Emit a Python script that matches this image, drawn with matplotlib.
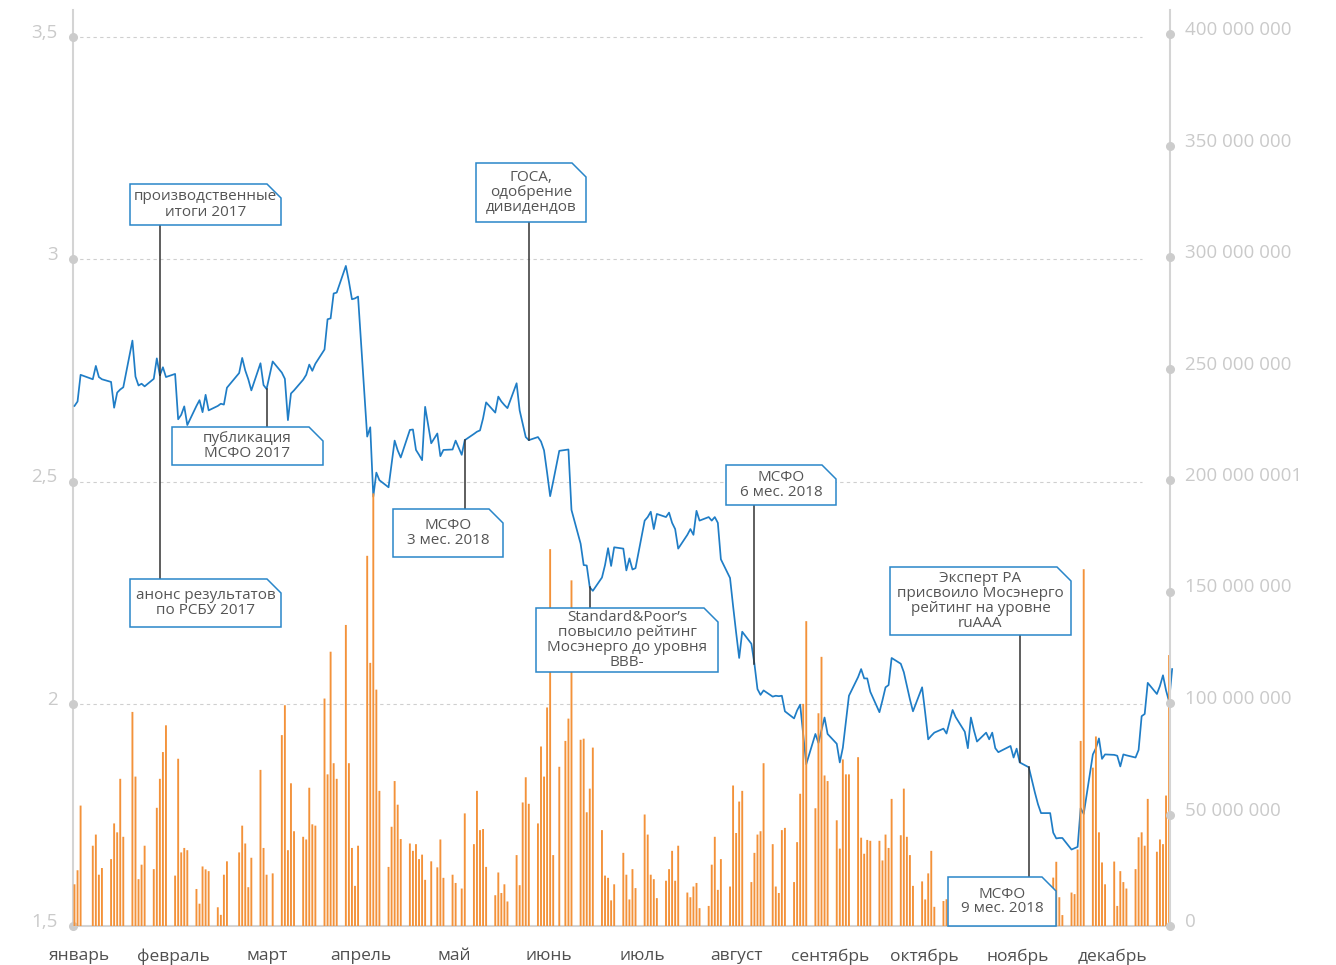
import numpy as np
import pandas as pd
import matplotlib
matplotlib.use('Agg')
import matplotlib.pyplot as plt
import matplotlib.dates as mdates
from matplotlib.patches import Polygon
from matplotlib.transforms import Affine2D, ScaledTranslation

plt.rcParams['font.family'] = ['Open Sans', 'DejaVu Sans']

W, H = 1336, 965

# trading calendar 2018 (MOEX)
holidays = ['2018-01-08', '2018-02-23', '2018-03-08', '2018-05-01',
            '2018-05-09', '2018-06-12', '2018-11-05']
work_saturdays = ['2018-04-28', '2018-06-09', '2018-12-29']

# closing price, rub
price_jan = [2.67, 2.68, 2.74, 2.73, 2.76, 2.735, 2.73, 2.724, 2.666, 2.70, 2.707, 2.712,
             2.817, 2.736, 2.716, 2.72, 2.714, 2.731, 2.777, 2.739]
price_feb = [2.757, 2.735, 2.742, 2.64, 2.65, 2.669, 2.627, 2.67, 2.683, 2.656, 2.695, 2.66,
             2.67, 2.675, 2.673, 2.711, 2.744, 2.778, 2.75]
price_mar = [2.73, 2.705, 2.766, 2.717, 2.708, 2.77, 2.745, 2.731, 2.638, 2.698, 2.705, 2.729,
             2.74, 2.763, 2.749, 2.765, 2.797, 2.865, 2.867, 2.923, 2.925]
price_apr = [2.985, 2.95, 2.91, 2.912, 2.916, 2.601, 2.622, 2.466, 2.52, 2.503, 2.487, 2.54,
             2.592, 2.57, 2.554, 2.616, 2.617, 2.571, 2.56, 2.548, 2.668, 2.586]
price_may = [2.608, 2.557, 2.571, 2.572, 2.592, 2.56, 2.593, 2.607, 2.612, 2.615, 2.642, 2.678,
             2.655, 2.691, 2.68, 2.672, 2.665, 2.721, 2.66, 2.63, 2.60]
price_jun = [2.593, 2.60, 2.59, 2.57, 2.52, 2.467, 2.50, 2.569, 2.571, 2.572, 2.436, 2.36,
             2.312, 2.311, 2.262, 2.254, 2.284, 2.312, 2.35, 2.31, 2.352]
price_jul = [2.349, 2.30, 2.327, 2.302, 2.305, 2.412, 2.42, 2.432, 2.393, 2.427, 2.42, 2.43,
             2.407, 2.393, 2.349, 2.38, 2.393, 2.38, 2.434, 2.412, 2.42, 2.412]
price_aug = [2.42, 2.407, 2.325, 2.283, 2.22, 2.16, 2.103, 2.162, 2.135, 2.09, 2.033, 2.02,
             2.03, 2.016, 2.018, 2.017, 2.018, 1.983, 1.967, 1.985, 1.998, 1.93, 1.864]
price_sep = [1.932, 1.912, 1.94, 1.969, 1.932, 1.91, 1.868, 1.901, 1.96, 2.018, 2.06, 2.078,
             2.057, 2.057, 2.027, 1.981, 2.008, 2.037, 2.042, 2.103]
price_oct = [2.09, 2.071, 2.04, 2.01, 1.983, 2.037, 1.98, 1.92, 1.928, 1.935, 1.944, 1.933,
             1.96, 1.986, 1.97, 1.937, 1.90, 1.969, 1.94, 1.915, 1.935, 1.92, 1.935]
price_nov = [1.90, 1.891, 1.905, 1.879, 1.899, 1.868, 1.857, 1.828, 1.80, 1.774, 1.754, 1.754,
             1.71, 1.697, 1.698, 1.698, 1.672, 1.675, 1.678, 1.765, 1.752]
price_dec = [1.886, 1.90, 1.922, 1.876, 1.886, 1.885, 1.883, 1.859, 1.886, 1.884, 1.879, 1.896,
             1.972, 1.977, 2.047, 2.022, 2.04, 2.064, 2.03, 2.005, 2.078]

# trading volume, mln shares
vol_jan = [18.7, 25, 54, 36, 41, 23, 26, 30, 46, 42, 66, 40, 96, 67, 21, 27.5, 36, 25.5, 53, 66]
vol_feb = [78, 90, 22.6, 75, 33, 35, 34, 16.6, 10, 26.7, 25.4, 24.6, 8.4, 5, 23, 29, 33, 45, 37]
vol_mar = [17.4, 30.6, 70, 35, 23, 23.6, 85.6, 99, 34, 64, 42.5, 40, 38.8, 62, 45.6, 45, 102,
           68, 123, 73, 66]
vol_apr = [135, 73, 35, 18, 36, 166, 118, 194, 106, 60.6, 26.5, 44.5, 65, 54.4, 39, 37, 33.7,
           36.7, 30, 32, 20.7, 29]
vol_may = [26.3, 38.8, 21.6, 23, 19.3, 16.8, 50.5, 36.7, 60.6, 43, 43.5, 26.5, 13.8, 24, 14.8,
           18.7, 11, 31.8, 18.3, 55.4, 66.7]
vol_jun = [54.8, 46, 80.5, 67, 98, 169, 31.8, 71.4, 83, 93, 155, 83.5, 84, 51, 61.6, 80, 43,
           22.6, 21.6, 11.5, 18.7]
vol_jul = [32.8, 23, 11.9, 25.5, 17, 50, 41, 23, 21, 12.5, 20.3, 25.5, 33.7, 20.3, 36, 15, 12.9,
           17.7, 19.3, 8, 9, 27.5]
vol_aug = [40, 16.2, 30, 17.7, 63, 41.7, 55.8, 60.6, 19.7, 32.8, 41, 42.5, 73, 36.7, 17.7, 14.8,
           43, 44, 19.7, 37.6, 59.3, 99.6, 136.7]
vol_sep = [52.8, 95.4, 120.7, 67.5, 65, 47.4, 34.7, 74.7, 68, 68, 75.7, 39.6, 32.4, 38.6, 38.2,
           38.2, 29.4, 41, 35, 57]
vol_oct = [40.7, 61.6, 40, 31.8, 18, 20, 11.9, 23.6, 33.7, 8.6, 11.2, 12, 9, 15, 10, 8, 14, 11,
           13, 9, 10, 12, 8]
vol_nov = [11, 9, 13, 10, 12, 8, 14, 10, 12, 9, 11, 13, 21.7, 28.8, 12.9, 4.9, 15, 14.3, 34.3,
           83, 160]
vol_dec = [71, 85, 42, 28.5, 18.7, 28.9, 9, 24.6, 19.7, 16.8, 25.5, 39.8, 42, 36, 57, 33.3, 38.8,
           36.7, 58.5, 121.5, np.nan]

months = ['январь', 'февраль', 'март', 'апрель', 'май', 'июнь', 'июль', 'август',
          'сентябрь', 'октябрь', 'ноябрь', 'декабрь']
left_ticks = [1.5, 2, 2.5, 3, 3.5]
left_labels = ['1,5', '2', '2,5', '3', '3,5']
right_ticks = [0, 50e6, 100e6, 150e6, 200e6, 250e6, 300e6, 350e6, 400e6]
right_labels = ['0', '50 000 000', '100 000 000', '150 000 000', '200 000 0001',
                '250 000 000', '300 000 000', '350 000 000', '400 000 000']

# events: text, date, box left/top/width/height in px
events = [
    ('производственные\nитоги 2017', '2018-01-31', 130, 184, 151, 41),
    ('анонс результатов\nпо РСБУ 2017', '2018-01-31', 130, 579, 151, 48),
    ('публикация\nМСФО 2017', '2018-03-07', 172, 427, 151, 38),
    ('МСФО\n3 мес. 2018', '2018-05-11', 393, 509, 110, 48),
    ('ГОСА,\nодобрение\nдивидендов', '2018-06-01', 476, 163, 110, 59),
    ('Standard&Poor’s\nповысило рейтинг\nМосэнерго до уровня\nBBB-', '2018-06-21', 536, 608, 182, 64),
    ('МСФО\n6 мес. 2018', '2018-08-14', 726, 465, 110, 40),
    ('Эксперт РА\nприсвоило Мосэнерго\nрейтинг на уровне\nruAAA', '2018-11-09', 890, 567, 181, 68),
    ('МСФО\n9 мес. 2018', '2018-11-12', 948, 877, 108, 49),
]

days = pd.bdate_range('2018-01-03', '2018-12-28')
days = days.drop(pd.to_datetime(holidays)).union(pd.to_datetime(work_saturdays))
price = np.concatenate([price_jan, price_feb, price_mar, price_apr, price_may, price_jun,
                        price_jul, price_aug, price_sep, price_oct, price_nov, price_dec])
volume = np.concatenate([vol_jan, vol_feb, vol_mar, vol_apr, vol_may, vol_jun,
                         vol_jul, vol_aug, vol_sep, vol_oct, vol_nov, vol_dec]) * 1e6
x = mdates.date2num(days)

fig = plt.figure(figsize=(W / 100, H / 100), dpi=100)
ax = fig.add_axes([73 / W, (H - 926) / H, 1097 / W, 916 / H])
ax2 = ax.twinx()

x0 = mdates.date2num(pd.Timestamp('2018-01-03')) - 0.49
x1 = mdates.date2num(pd.Timestamp('2018-12-28')) + 0.3
ax.set_xlim(x0, x1)
ax.set_ylim(1.5, 1.5 + 916 / 444.5)
ax2.set_ylim(0, 916 / 892 * 400e6)

grey = '#d4d4d4'
for v in left_ticks[1:]:
    ax.axhline(v, xmin=0, xmax=0.9745, color='#cfcfcf', lw=0.8, ls=(0, (3, 3)), zorder=1)

ax.plot(x, price, color='#1f7dc6', lw=1.25, zorder=3, clip_on=False)
bars = ax2.bar(x, volume, width=0.62, color='#f3923a', lw=0, zorder=2)
for b in bars:
    b.set_snap(False)

for s in ['top', 'right']:
    ax.spines[s].set_visible(False)
for s in ['top', 'left', 'bottom']:
    ax2.spines[s].set_visible(False)
ax.spines['left'].set_color(grey)
ax.spines['left'].set_linewidth(1.5)
ax.spines['bottom'].set_color(grey)
ax.spines['bottom'].set_linewidth(1.5)
ax2.spines['right'].set_color(grey)
ax2.spines['right'].set_linewidth(1.5)

ax.set_yticks(left_ticks, labels=left_labels)
ax.tick_params(axis='y', length=0, pad=11, labelsize=13.5, labelcolor='#cacaca')
ax2.set_yticks(right_ticks, labels=right_labels)
ax2.tick_params(axis='y', length=0, pad=11, labelsize=13.5, labelcolor='#cacaca')
up = ScaledTranslation(0, 6 / 100, fig.dpi_scale_trans)
for lbl in ax.get_yticklabels() + ax2.get_yticklabels():
    lbl.set_transform(lbl.get_transform() + up)

month_pos = x0 + 0.49 + 1.5 + 30.8 * np.arange(12)
ax.set_xticks(month_pos, labels=months)
ax.tick_params(axis='x', length=0, pad=16, labelsize=12.5, labelcolor='#505050')

ax.plot(np.zeros(len(left_ticks)), left_ticks, 'o', ms=5.5, color='#cccccc',
        transform=ax.get_yaxis_transform(), clip_on=False, zorder=5)
ax2.plot(np.ones(len(right_ticks)), right_ticks, 'o', ms=5.5, color='#cccccc',
         transform=ax2.get_yaxis_transform(), clip_on=False, zorder=5)

# annotations
px = Affine2D().scale(1 / W, -1 / H).translate(0, 1) + fig.transFigure
inv = ax.transData.inverted()
for text, date, l, t, w, h in events:
    i = days.get_loc(pd.Timestamp(date))
    xd, yd = x[i], price[i]
    yd_px = H - ax.transData.transform((xd, yd))[1]
    edge = t + h if yd_px > t + h else t
    edge_val = inv.transform((0, H - edge))[1]
    ax2.plot([xd, xd], [yd, edge_val], transform=ax.transData, color='#333333',
             lw=1.1, zorder=6, clip_on=False)
    c = 14
    verts = [(l, t), (l + w - c, t), (l + w, t + c), (l + w, t + h), (l, t + h)]
    fig.add_artist(Polygon(verts, closed=True, transform=px, facecolor='white',
                           edgecolor='#2a86c9', lw=1.1, zorder=10))
    fig.text((l + w / 2) / W, 1 - (t + h / 2) / H, text, ha='center', va='center',
             fontsize=11, color='#555555', linespacing=1.0, zorder=11)

fig.savefig('out.png', dpi=100)
